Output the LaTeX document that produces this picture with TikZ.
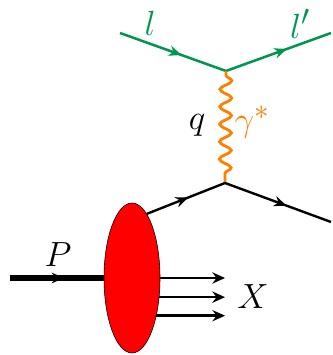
\documentclass[tikz,border=0pt]{standalone}
\usepackage{amsmath, amssymb}
\usepackage{xcolor}
\usepackage{tikz}
\usetikzlibrary{shapes.geometric,arrows.meta,positioning,calc,decorations.markings,decorations.pathmorphing}

\definecolor{leptongreen}{RGB}{0,150,80}
\definecolor{photonorange}{RGB}{255,128,0}

\begin{document}
\begin{tikzpicture}[
    lepton/.style={draw=leptongreen, line width=1.8pt},
    quark/.style={draw=black, line width=1.7pt},
    photon/.style={draw=photonorange, line width=2pt, decorate,
        decoration={snake, amplitude=4.2pt, segment length=12.4pt, pre length=3pt, post length=3pt}},
    midarrow/.style={postaction={decorate},
        decoration={markings, mark=at position #1 with {\arrow{Stealth[length=9pt,width=7.5pt,inset=3pt]}}}},
    hadron/.style={ellipse, draw, fill=red, minimum width=1.4cm, minimum height=3.75cm, inner sep=0pt},
    jet/.style={-{Stealth[length=9pt,width=8pt,inset=3pt]}, line width=1.8pt},
    lab/.style={font=\Huge, inner sep=0pt}
]
\useasboundingbox (0,0) rectangle (8.3,8.875);

% vertices and free ends
\coordinate (lin) at (3.0,8.05);
\coordinate (vtop) at (5.65,7.1);
\coordinate (lout) at (8.275,8.05);
\coordinate (vbot) at (5.625,4.3);
\coordinate (qout) at (8.275,3.325);
\coordinate (pin) at (0.25,1.925);
\coordinate (xend) at (5.625,0);

\node[hadron] (had) at (3.3,1.925) {};

% lepton and photon
\draw[lepton, midarrow=0.58] (lin) -- (vtop);
\draw[lepton, midarrow=0.58] (vtop) -- (lout);
\draw[photon] (vtop) -- (vbot);

% quark lines
\draw[quark, midarrow=0.53] (had.77) -- (vbot);
\draw[quark, midarrow=0.58] (vbot) -- (qout);

% proton and remnants
\draw[line width=3.6pt, midarrow=0.58] (pin) -- (had.west);
\draw[jet] (had.east) -- (had.east -| xend);
\draw[jet] (had.-35) -- (had.-35 -| xend);
\draw[jet] (had.-57) -- (had.-57 -| xend);

% labels
\node[lab, text=leptongreen] (llab) at (3.75,8.3) {$l$};
\node[lab, text=leptongreen] (lplab) at (7.5,8.27) {$l'$};
\node[lab] (qlab) at (4.925,5.75) {$q$};
\node[lab, text=photonorange] (glab) at (6.3,5.825) {$\gamma^*$};
\node[lab] (plab) at (1.45,2.5) {$P$};
\node[lab] (xlab) at (6.325,1.45) {$X$};
\end{tikzpicture}
\end{document}
